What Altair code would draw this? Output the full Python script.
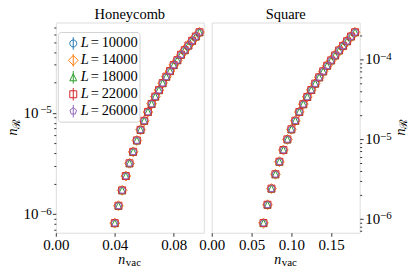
import altair as alt
import pandas as pd

FONT = "Liberation Serif"

series_labels = ["10000", "14000", "18000", "22000", "26000"]
colors = ["#1f77b4", "#ff7f0e", "#2ca02c", "#d62728", "#9467bd"]
shape_paths = [
    "M1,0A1,1,0,1,1,-1,0A1,1,0,1,1,1,0Z",
    "M0,-1.414L1.414,0L0,1.414L-1.414,0Z",
    "M0,-1L1,1L-1,1Z",
    "M-1,-1L1,-1L1,1L-1,1Z",
    "M0,-1L0.951,-0.309L0.588,0.809L-0.588,0.809L-0.951,-0.309Z",
]
errbar_path = "M0,-1.8L0,1.8"

hc_x = [0.04, 0.0425, 0.045, 0.0475, 0.05, 0.0525, 0.055, 0.0575, 0.06, 0.0625,
        0.065, 0.0675, 0.07, 0.0725, 0.075, 0.0775, 0.08, 0.0825, 0.085, 0.0875,
        0.09, 0.0925, 0.095, 0.0975]
hc_y = [8.15e-7, 1.21e-6, 1.72e-6, 2.38e-6, 3.18e-6, 4.13e-6, 5.35e-6, 6.81e-6,
        8.36e-6, 1.023e-5, 1.227e-5, 1.45e-5, 1.68e-5, 1.97e-5, 2.28e-5, 2.59e-5,
        2.97e-5, 3.32e-5, 3.76e-5, 4.17e-5, 4.64e-5, 5.16e-5, 5.69e-5, 6.27e-5]

sq_x = [0.065, 0.07, 0.075, 0.08, 0.085, 0.09, 0.095, 0.10, 0.105, 0.11,
        0.115, 0.12, 0.125, 0.13, 0.135, 0.14, 0.145, 0.15, 0.155, 0.16,
        0.165, 0.17, 0.175, 0.18]
sq_y = [8.83e-7, 1.50e-6, 2.39e-6, 3.62e-6, 5.20e-6, 7.29e-6, 9.91e-6, 1.326e-5,
        1.70e-5, 2.19e-5, 2.74e-5, 3.38e-5, 4.13e-5, 4.97e-5, 5.96e-5, 7.08e-5,
        8.34e-5, 9.72e-5, 1.122e-4, 1.296e-4, 1.48e-4, 1.69e-4, 1.94e-4, 2.19e-4]

hc_xticks = [0.0, 0.04, 0.08]
sq_xticks = [0.0, 0.05, 0.10, 0.15]
hc_yticks = [7e-7, 8e-7, 9e-7, 1e-6, 2e-6, 3e-6, 4e-6, 5e-6, 6e-6, 7e-6, 8e-6, 9e-6,
             1e-5, 2e-5, 3e-5, 4e-5, 5e-5, 6e-5, 7e-5]
sq_yticks = [7e-7, 8e-7, 9e-7, 1e-6, 2e-6, 3e-6, 4e-6, 5e-6, 6e-6, 7e-6, 8e-6, 9e-6,
             1e-5, 2e-5, 3e-5, 4e-5, 5e-5, 6e-5, 7e-5, 8e-5, 9e-5, 1e-4, 2e-4]
hc_major = [1e-6, 1e-5]
hc_major_exp = ["−6", "−5"]
sq_major = [1e-6, 1e-5, 1e-4]
sq_major_exp = ["−6", "−5", "−4"]

W, H = 148.5, 211

LG = "log(datum.value)/LN10"
MAJ = f"abs({LG} - round({LG})) < 0.01"

color_scale = alt.Scale(domain=series_labels, range=colors)
shape_scale = alt.Scale(domain=series_labels, range=shape_paths)
one = pd.DataFrame({"k": [0]})


def make_df(xs, ys):
    rows = []
    for s in series_labels:
        for a, b in zip(xs, ys):
            rows.append({"x": a, "y": b, "L": s})
    return pd.DataFrame(rows)


def txt(text, x, y, size=14, italic=False, align="left", angle=0):
    kw = dict(text=text, fontSize=size, font=FONT, align=align,
              baseline="alphabetic", color="black")
    if italic:
        kw["fontStyle"] = "italic"
    if angle:
        kw["angle"] = angle
    return alt.Chart(one).mark_text(**kw).encode(x=alt.value(x), y=alt.value(y))


def panel(xs, ys, title, xdom, xticks, ydom, yticks, yorient, majors, exps, with_legend):
    df = make_df(xs, ys)
    yscale = alt.Scale(type="log", domain=ydom, nice=False)
    pts = alt.Chart(df).mark_point(filled=False, size=49, strokeWidth=1, opacity=1).encode(
        x=alt.X("x:Q", scale=alt.Scale(domain=xdom, nice=False, zero=False),
                axis=alt.Axis(values=xticks, format=".2f", title=None, grid=False,
                              domain=False, labelFlush=False, labelOverlap=False,
                              tickSize=3.5, tickColor="#333", labelPadding=1,
                              labelFontSize=15, labelFont=FONT, labelColor="black")),
        y=alt.Y("y:Q", scale=yscale,
                axis=alt.Axis(orient=yorient, values=yticks, labels=False, title=None,
                              grid=False, domain=False,
                              tickSize={"condition": {"test": MAJ, "value": 3.5}, "value": 2},
                              tickColor="#333")),
        color=alt.Color("L:N", scale=color_scale, legend=None),
        shape=alt.Shape("L:N", scale=shape_scale, legend=None),
    )
    layers = [pts]

    # y tick labels "10" with raised exponent
    tk = pd.DataFrame({"y": majors, "e": exps})
    if yorient == "left":
        base_x, base_align, exp_x, exp_align = -17.5, "right", -4, "right"
    else:
        base_x, base_align, exp_x, exp_align = W + 5.5, "left", W + 20.5, "left"
    ten = alt.Chart(tk).mark_text(text="10", fontSize=15, font=FONT, align=base_align,
                                  baseline="middle", color="black").encode(
        x=alt.value(base_x), y=alt.Y("y:Q", scale=yscale, axis=None))
    ex = alt.Chart(tk).mark_text(fontSize=11, font=FONT, align=exp_align,
                                 baseline="middle", dy=-2.5, color="black").encode(
        x=alt.value(exp_x), y=alt.Y("y:Q", scale=yscale, axis=None), text="e:N")
    layers += [ten, ex]

    mid = W / 2
    # panel title
    layers.append(txt(title, mid, -3.9, size=14.5, align="center"))
    # x axis title
    layers.append(txt("n", mid - 4.5, H + 31, italic=True, align="right"))
    layers.append(txt("vac", mid - 4, H + 33.5, size=11))
    # y axis title
    tx = -38.5 if yorient == "left" else W + 45
    layers.append(txt("n", tx, 106.5, italic=True, align="right", angle=270))
    layers.append(txt("ℛ", tx + 2.5, 106.5, size=11, align="left", angle=270))

    if with_legend:
        leg = pd.DataFrame({"L": series_labels, "row": list(range(len(series_labels)))})
        yrow = alt.Y("row:Q", scale=alt.Scale(domain=[0, 4], range=[21, 89]), axis=None)
        box = alt.Chart(one).mark_rect(fill="white", stroke="#cccccc", strokeWidth=1,
                                       cornerRadius=3, opacity=0.85).encode(
            x=alt.value(2.5), x2=alt.value(84.5), y=alt.value(10), y2=alt.value(100))
        lpts = alt.Chart(leg).mark_point(filled=False, size=49, strokeWidth=1, opacity=1).encode(
            x=alt.value(17.5), y=yrow,
            color=alt.Color("L:N", scale=color_scale, legend=None),
            shape=alt.Shape("L:N", scale=shape_scale, legend=None))
        lbar = alt.Chart(leg).mark_point(filled=False, size=49, strokeWidth=1, opacity=1,
                                         shape=errbar_path).encode(
            x=alt.value(17.5), y=yrow,
            color=alt.Color("L:N", scale=color_scale, legend=None))
        lL = alt.Chart(leg).mark_text(text="L", fontStyle="italic", fontSize=14.5, font=FONT,
                                      align="left", baseline="middle", color="black").encode(
            x=alt.value(25), y=yrow)
        lEq = alt.Chart(leg).mark_text(text="=", fontSize=14.5, font=FONT, align="left",
                                       baseline="middle", color="black").encode(
            x=alt.value(35), y=yrow)
        lT = alt.Chart(leg).mark_text(fontSize=14.5, font=FONT, align="left",
                                      baseline="middle", color="black").encode(
            x=alt.value(46), y=yrow, text="L:N")
        layers += [box, lbar, lpts, lL, lEq, lT]

    ch = alt.layer(*layers).resolve_scale(y="independent").properties(width=W, height=H)
    return ch


left = panel(hc_x, hc_y, "Honeycomb", [0.0, 0.1004], hc_xticks,
             [6.55e-7, 7.82e-5], hc_yticks, "left", hc_major, hc_major_exp, True)
right = panel(sq_x, sq_y, "Square", [0.0, 0.1858], sq_xticks,
              [6.68e-7, 2.90e-4], sq_yticks, "right", sq_major, sq_major_exp, False)

chart = alt.hconcat(left, right, spacing=7.5, bounds="flush").properties(
    padding={"left": -2, "top": -2.9, "right": -1.5, "bottom": -1.5}
).configure_view(stroke="#333333", strokeWidth=1).configure(font=FONT)

chart.save("out.html", embed_options={"renderer": "svg", "actions": False})
